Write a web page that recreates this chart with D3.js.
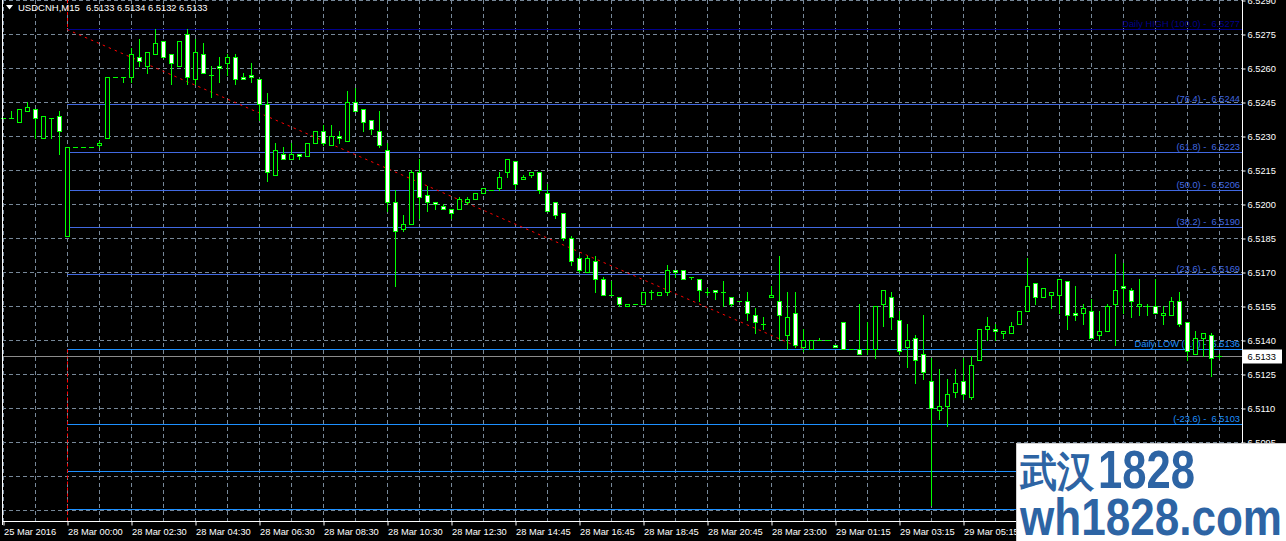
<!DOCTYPE html>
<html><head><meta charset="utf-8">
<script src="https://cdn.jsdelivr.net/npm/d3@7"></script>
<style>
html,body{margin:0;padding:0;background:#000;overflow:hidden;}
svg{display:block;}
text{font-family:"Liberation Sans",Arial,sans-serif;}
</style></head><body>
<svg id="chart" width="1286" height="541"></svg>
<script>
// ---------------- data ----------------
const symbolTitle = "USDCNH,M15";
const lastQuote = ["6.5133", "6.5134", "6.5132", "6.5133"];

const open = [
6.5238,6.5238,6.5236,6.5241,6.5242,6.5229,6.5238,6.5239,6.5186,6.5225,
6.5225,6.5225,6.5226,6.5229,6.5256,6.5256,6.5256,6.5265,6.5261,6.5266,
6.5272,6.5266,6.5261,6.5275,6.5255,6.5266,6.5257,6.5261,6.5262,6.5265,
6.5256,6.5257,6.5255,6.5244,6.5213,6.5222,6.5220,6.5222,6.5221,6.5227,
6.5232,6.5226,6.5230,6.5228,6.5245,6.5242,6.5237,6.5232,6.5224,6.5201,
6.5189,6.5191,6.5214,6.5204,6.5201,6.5199,6.5198,6.5198,6.5201,6.5202,
6.5205,6.5206,6.5207,6.5214,6.5219,6.5211,6.5213,6.5214,6.5205,6.5201,
6.5196,6.5185,6.5176,6.5170,6.5175,6.5167,6.5160,6.5159,6.5155,6.5156,
6.5156,6.5161,6.5160,6.5161,6.5171,6.5171,6.5168,6.5167,6.5161,6.5162,
6.5161,6.5159,6.5157,6.5157,6.5151,6.5147,6.5159,6.5157,6.5142,6.5152,
6.5137,6.5136,6.5140,6.5140,6.5138,6.5148,6.5136,6.5136,6.5136,6.5136,
6.5156,6.5159,6.5149,6.5137,6.5141,6.5134,6.5122,6.5109,6.5111,6.5117,
6.5122,6.5115,6.5131,6.5145,6.5145,6.5143,6.5143,6.5147,6.5153,6.5165,
6.5159,6.5160,6.5160,6.5166,6.5152,6.5152,6.5153,6.5142,6.5144,6.5156,
6.5164,6.5162,6.5155,6.5155,6.5155,6.5151,6.5151,6.5157,6.5148,6.5134,
6.5141,6.5142,6.5133];
const high = [
6.5238,6.5241,6.5242,6.5245,6.5242,6.5239,6.5238,6.5241,6.5225,6.5225,
6.5225,6.5225,6.5228,6.5256,6.5256,6.5256,6.5269,6.5273,6.5267,6.5277,
6.5272,6.5266,6.5272,6.5277,6.5273,6.5271,6.5261,6.5265,6.5266,6.5266,
6.5258,6.5262,6.5255,6.5249,6.5227,6.5225,6.5227,6.5222,6.5227,6.5232,
6.5235,6.5235,6.5232,6.5250,6.5251,6.5242,6.5237,6.5241,6.5227,6.5206,
6.5195,6.5215,6.5220,6.5208,6.5201,6.5200,6.5198,6.5203,6.5203,6.5205,
6.5207,6.5206,6.5214,6.5220,6.5219,6.5213,6.5214,6.5214,6.5209,6.5201,
6.5196,6.5186,6.5177,6.5177,6.5177,6.5168,6.5166,6.5159,6.5156,6.5156,
6.5161,6.5162,6.5161,6.5173,6.5171,6.5171,6.5168,6.5167,6.5163,6.5162,
6.5166,6.5159,6.5157,6.5161,6.5154,6.5150,6.5164,6.5177,6.5161,6.5161,
6.5145,6.5140,6.5141,6.5140,6.5138,6.5148,6.5136,6.5156,6.5148,6.5155,
6.5162,6.5161,6.5153,6.5147,6.5142,6.5151,6.5132,6.5127,6.5123,6.5127,
6.5132,6.5133,6.5145,6.5150,6.5147,6.5144,6.5148,6.5153,6.5176,6.5165,
6.5163,6.5161,6.5167,6.5166,6.5164,6.5156,6.5158,6.5153,6.5156,6.5178,
6.5174,6.5163,6.5167,6.5156,6.5167,6.5155,6.5159,6.5161,6.5148,6.5144,
6.5143,6.5143,6.5134];
const low = [
6.5238,6.5238,6.5236,6.5241,6.5229,6.5229,6.5229,6.5222,6.5186,6.5225,
6.5225,6.5225,6.5225,6.5229,6.5256,6.5254,6.5254,6.5261,6.5258,6.5266,
6.5265,6.5253,6.5261,6.5253,6.5253,6.5258,6.5247,6.5254,6.5257,6.5253,
6.5255,6.5254,6.5237,6.5210,6.5213,6.5220,6.5220,6.5220,6.5221,6.5227,
6.5226,6.5226,6.5227,6.5228,6.5241,6.5232,6.5231,6.5225,6.5197,6.5164,
6.5188,6.5191,6.5194,6.5197,6.5198,6.5198,6.5194,6.5198,6.5200,6.5202,
6.5205,6.5206,6.5206,6.5212,6.5207,6.5211,6.5212,6.5205,6.5197,6.5194,
6.5184,6.5173,6.5170,6.5170,6.5161,6.5160,6.5160,6.5155,6.5155,6.5156,
6.5156,6.5158,6.5160,6.5160,6.5168,6.5167,6.5167,6.5157,6.5160,6.5158,
6.5155,6.5155,6.5157,6.5149,6.5143,6.5145,6.5159,6.5140,6.5136,6.5137,
6.5135,6.5136,6.5140,6.5140,6.5137,6.5136,6.5136,6.5134,6.5134,6.5132,
6.5146,6.5145,6.5134,6.5128,6.5121,6.5123,6.5067,6.5105,6.5102,6.5115,
6.5114,6.5114,6.5131,6.5140,6.5140,6.5141,6.5143,6.5147,6.5153,6.5156,
6.5159,6.5154,6.5152,6.5145,6.5149,6.5147,6.5141,6.5140,6.5144,6.5138,
6.5152,6.5150,6.5151,6.5151,6.5152,6.5147,6.5151,6.5146,6.5131,6.5134,
6.5133,6.5124,6.5132];
const close = [
6.5238,6.5238,6.5242,6.5243,6.5238,6.5239,6.5238,6.5232,6.5225,6.5225,
6.5225,6.5225,6.5227,6.5256,6.5256,6.5256,6.5266,6.5263,6.5267,6.5271,
6.5265,6.5262,6.5272,6.5256,6.5267,6.5258,6.5257,6.5260,6.5265,6.5255,
6.5255,6.5256,6.5244,6.5214,6.5224,6.5220,6.5222,6.5221,6.5227,6.5232,
6.5227,6.5230,6.5229,6.5245,6.5241,6.5236,6.5233,6.5226,6.5201,6.5188,
6.5191,6.5214,6.5203,6.5201,6.5200,6.5198,6.5196,6.5202,6.5202,6.5205,
6.5207,6.5206,6.5212,6.5220,6.5209,6.5212,6.5214,6.5206,6.5197,6.5195,
6.5185,6.5175,6.5171,6.5176,6.5167,6.5160,6.5160,6.5156,6.5156,6.5156,
6.5161,6.5161,6.5161,6.5171,6.5170,6.5167,6.5168,6.5162,6.5161,6.5161,
6.5161,6.5156,6.5157,6.5152,6.5148,6.5147,6.5160,6.5151,6.5150,6.5138,
6.5140,6.5140,6.5140,6.5140,6.5137,6.5136,6.5136,6.5134,6.5136,6.5155,
6.5162,6.5150,6.5135,6.5140,6.5131,6.5126,6.5110,6.5111,6.5116,6.5121,
6.5116,6.5129,6.5145,6.5146,6.5144,6.5144,6.5146,6.5153,6.5164,6.5159,
6.5163,6.5161,6.5167,6.5151,6.5151,6.5154,6.5141,6.5144,6.5155,6.5162,
6.5163,6.5157,6.5156,6.5155,6.5152,6.5152,6.5157,6.5147,6.5135,6.5141,
6.5143,6.5132,6.5133];

const timeLabels = ["25 Mar 2016","28 Mar 00:00","28 Mar 02:30","28 Mar 04:30","28 Mar 06:30",
  "28 Mar 08:30","28 Mar 10:30","28 Mar 12:30","28 Mar 14:45","28 Mar 16:45","28 Mar 18:45",
  "28 Mar 20:45","28 Mar 23:00","29 Mar 01:15","29 Mar 03:15","29 Mar 05:15"];
const barsPerTimeLabel = 8;
const barsPerGridColumn = 4;

const priceTicks = [6.5290,6.5275,6.5260,6.5245,6.5230,6.5215,6.5200,6.5185,6.5170,6.5155,
  6.5140,6.5125,6.5110,6.5095];
const gridPrices = [6.5290,6.5275,6.5260,6.5245,6.5230,6.5215,6.5200,6.5185,6.5170,6.5155,
  6.5140,6.5125,6.5110,6.5095,6.5080,6.5065];

const fiboLevels = ["100.0","76.4","61.8","50.0","38.2","23.6","0.0","-23.6","-38.2","-50.0"];
const fiboPrices = [6.5277,6.5244,6.5223,6.5206,6.5190,6.5169,6.5136,6.5103,6.50821,6.50655];
const fiboNames  = ["Daily HIGH ","","","","","","Daily LOW ","","",""];
const fiboLabelShown = [true,true,true,true,true,true,true,true,false,false];
const fiboStartBar = 8;

const trendBars = [8, 100];
const trendPrices = [6.5277, 6.5136];
const bidPrice = 6.5133;

const watermarkLine1 = ["武汉", "1828"];
const watermarkLine2 = "wh1828.com";

// ---------------- drawing ----------------
const W = 1286, H = 541;
const axisX = 1242, axisY = 521, leftX = 2;
const svg = d3.select("#chart");
svg.append("rect").attr("width", W).attr("height", H).attr("fill", "#000");

const xScale = d3.scaleLinear().domain([0, 152]).range([3, 1219]);
const yScale = d3.scaleLinear().domain([6.5290, 6.5065]).range([0, 510]);
const cx = i => Math.round(xScale(i)) + 0.5;
const cy = p => Math.round(yScale(p)) + 0.5;

// grid
const grid = svg.append("g");
grid.selectAll("line.h").data(gridPrices).join("line")
  .attr("x1", leftX).attr("x2", axisX)
  .attr("y1", d => cy(d)).attr("y2", d => cy(d))
  .attr("stroke", "#778899").attr("stroke-dasharray", "4,3");
grid.selectAll("line.v").data(d3.range(0, open.length, barsPerGridColumn)).join("line")
  .attr("x1", d => cx(d)).attr("x2", d => cx(d))
  .attr("y1", 0).attr("y2", axisY)
  .attr("stroke", "#778899").attr("stroke-dasharray", "4,3");

// fibo lines
const fiboColor = i => i === 0 ? "#00008b" : (i < 6 ? "#4169e1" : "#1e90ff");
const fg = svg.append("g");
fg.selectAll("line").data(fiboPrices).join("line")
  .attr("x1", cx(fiboStartBar) - 0.5).attr("x2", axisX)
  .attr("y1", d => cy(d)).attr("y2", d => cy(d))
  .attr("stroke", (d, i) => fiboColor(i));
fg.selectAll("text").data(fiboPrices.map((p, i) => ({p, i})).filter(d => fiboLabelShown[d.i])).join("text")
  .attr("x", axisX - 2).attr("y", d => cy(d.p) - 2.5)
  .attr("text-anchor", "end").attr("font-size", 9.3)
  .attr("fill", d => fiboColor(d.i))
  .attr("xml:space", "preserve")
  .text(d => `${fiboNames[d.i]}(${fiboLevels[d.i]}) -  ${d.p.toFixed(4)}`);

// red vertical anchor line (dashed) and diagonal
const red = svg.append("g").attr("stroke", "#ff0000").attr("fill", "none");
red.append("line").attr("x1", cx(trendBars[0])).attr("x2", cx(trendBars[0]))
  .attr("y1", 0).attr("y2", cy(trendPrices[0])).attr("stroke-dasharray", "3,3");
red.append("line").attr("x1", cx(trendBars[0])).attr("x2", cx(trendBars[0]))
  .attr("y1", cy(trendPrices[1])).attr("y2", axisY).attr("stroke-dasharray", "3,3");
red.append("line")
  .attr("x1", xScale(trendBars[0])).attr("y1", yScale(trendPrices[0]))
  .attr("x2", xScale(trendBars[1])).attr("y2", yScale(trendPrices[1]))
  .attr("stroke-dasharray", "2.5,4");

// bid line
svg.append("line").attr("x1", leftX).attr("x2", axisX)
  .attr("y1", cy(bidPrice)).attr("y2", cy(bidPrice)).attr("stroke", "#8c8c8c");

// candles
const bars = open.map((o, i) => ({i, o, h: Math.max(high[i], o, close[i]), l: Math.min(low[i], o, close[i]), c: close[i]}));
const cg = svg.append("g");
cg.selectAll("line.wick").data(bars.filter(b => cy(b.h) !== cy(b.l))).join("line")
  .attr("class", "wick")
  .attr("x1", d => cx(d.i)).attr("x2", d => cx(d.i))
  .attr("y1", d => cy(d.h) - 0.5).attr("y2", d => cy(d.l) + 0.5)
  .attr("stroke", "#00ff00");
const bodyTop = d => Math.round(Math.min(yScale(d.o), yScale(d.c)));
const bodyBot = d => Math.round(Math.max(yScale(d.o), yScale(d.c)));
cg.selectAll("rect.body").data(bars.filter(b => bodyBot(b) - bodyTop(b) >= 1)).join("rect")
  .attr("class", "body")
  .attr("x", d => cx(d.i) - 2).attr("width", 4)
  .attr("y", d => bodyTop(d) + 0.5).attr("height", d => bodyBot(d) - bodyTop(d))
  .attr("fill", d => d.c < d.o ? "#ffffff" : "#000000")
  .attr("stroke", "#00ff00");
cg.selectAll("line.flat").data(bars.filter(b => bodyBot(b) - bodyTop(b) < 1)).join("line")
  .attr("class", "flat")
  .attr("x1", d => cx(d.i) - 2.5).attr("x2", d => cx(d.i) + 2.5)
  .attr("y1", d => bodyTop(d) + 0.5).attr("y2", d => bodyTop(d) + 0.5)
  .attr("stroke", "#00ff00");

// frame lines
svg.append("line").attr("x1", leftX + 0.5).attr("x2", leftX + 0.5).attr("y1", 0).attr("y2", axisY + 4).attr("stroke", "#fff");
svg.append("line").attr("x1", axisX + 0.5).attr("x2", axisX + 0.5).attr("y1", 0).attr("y2", H).attr("stroke", "#fff");
svg.append("line").attr("x1", leftX).attr("x2", axisX + 1).attr("y1", axisY + 0.5).attr("y2", axisY + 0.5).attr("stroke", "#fff");

// price axis
const yAxis = d3.axisRight(yScale).tickValues(priceTicks).tickFormat(d3.format(".4f"))
  .tickSize(3).tickSizeOuter(0).tickPadding(2);
const ya = svg.append("g").attr("transform", `translate(${axisX + 0.5},0.5)`).call(yAxis);
ya.select(".domain").remove();
ya.selectAll(".tick line").attr("stroke", "#fff");
ya.selectAll(".tick text").attr("fill", "#fff").attr("font-size", 9.3)
  .attr("font-family", '"Liberation Sans",Arial,sans-serif').attr("dy", "0.34em").attr("x", 5);

// time axis
const xAxis = d3.axisBottom(xScale)
  .tickValues(timeLabels.map((t, j) => j * barsPerTimeLabel))
  .tickFormat((d, j) => timeLabels[j]).tickSize(4).tickSizeOuter(0);
const xa = svg.append("g").attr("transform", `translate(0.5,${axisY + 0.5})`).call(xAxis);
xa.select(".domain").remove();
xa.selectAll(".tick line").attr("stroke", "#fff");
xa.selectAll(".tick text").attr("fill", "#fff").attr("font-size", 9.3)
  .attr("font-family", '"Liberation Sans",Arial,sans-serif')
  .attr("text-anchor", "start").attr("x", 0).attr("y", 13).attr("dy", 0);

// current price tag
const by = cy(bidPrice);
svg.append("rect").attr("x", axisX + 1).attr("y", by - 7).attr("width", 39).attr("height", 14).attr("fill", "#fff");
svg.append("text").attr("x", axisX + 5.5).attr("y", by + 3.5).attr("font-size", 9.3).attr("fill", "#000")
  .text(bidPrice.toFixed(4));

// header
svg.append("path").attr("d", "M6,5 L13,5 L9.5,9.5 Z").attr("fill", "#fff");
svg.append("text").attr("x", 18).attr("y", 11).attr("font-size", 9.5).attr("fill", "#fff").text(symbolTitle);
svg.append("text").attr("x", 86).attr("y", 11).attr("font-size", 9.3).attr("fill", "#fff").text(lastQuote.join(" "));

// watermark
const wm = svg.append("g");
wm.append("rect").attr("x", 1016.5).attr("y", 443.5).attr("width", 272).attr("height", 100)
  .attr("fill", "#fff").attr("stroke", "#cfcfcf");
wm.append("text").attr("x", 1020).attr("y", 486).attr("fill", "#2d64a4")
  .attr("font-weight", "bold").attr("font-size", 42)
  .attr("font-family", '"Noto Sans CJK SC",sans-serif')
  .attr("textLength", 74).attr("lengthAdjust", "spacingAndGlyphs").text(watermarkLine1[0]);
wm.append("text").attr("x", 1098).attr("y", 488).attr("fill", "#2d64a4")
  .attr("font-weight", "bold").attr("font-size", 53)
  .attr("font-family", '"Liberation Sans",Arial,sans-serif')
  .attr("textLength", 97).attr("lengthAdjust", "spacingAndGlyphs").text(watermarkLine1[1]);
wm.append("text").attr("x", 1020).attr("y", 535).attr("fill", "#2d64a4")
  .attr("font-weight", "bold").attr("font-size", 52)
  .attr("font-family", '"Liberation Sans",Arial,sans-serif')
  .attr("textLength", 262).attr("lengthAdjust", "spacingAndGlyphs").text(watermarkLine2);
</script>
</body></html>
